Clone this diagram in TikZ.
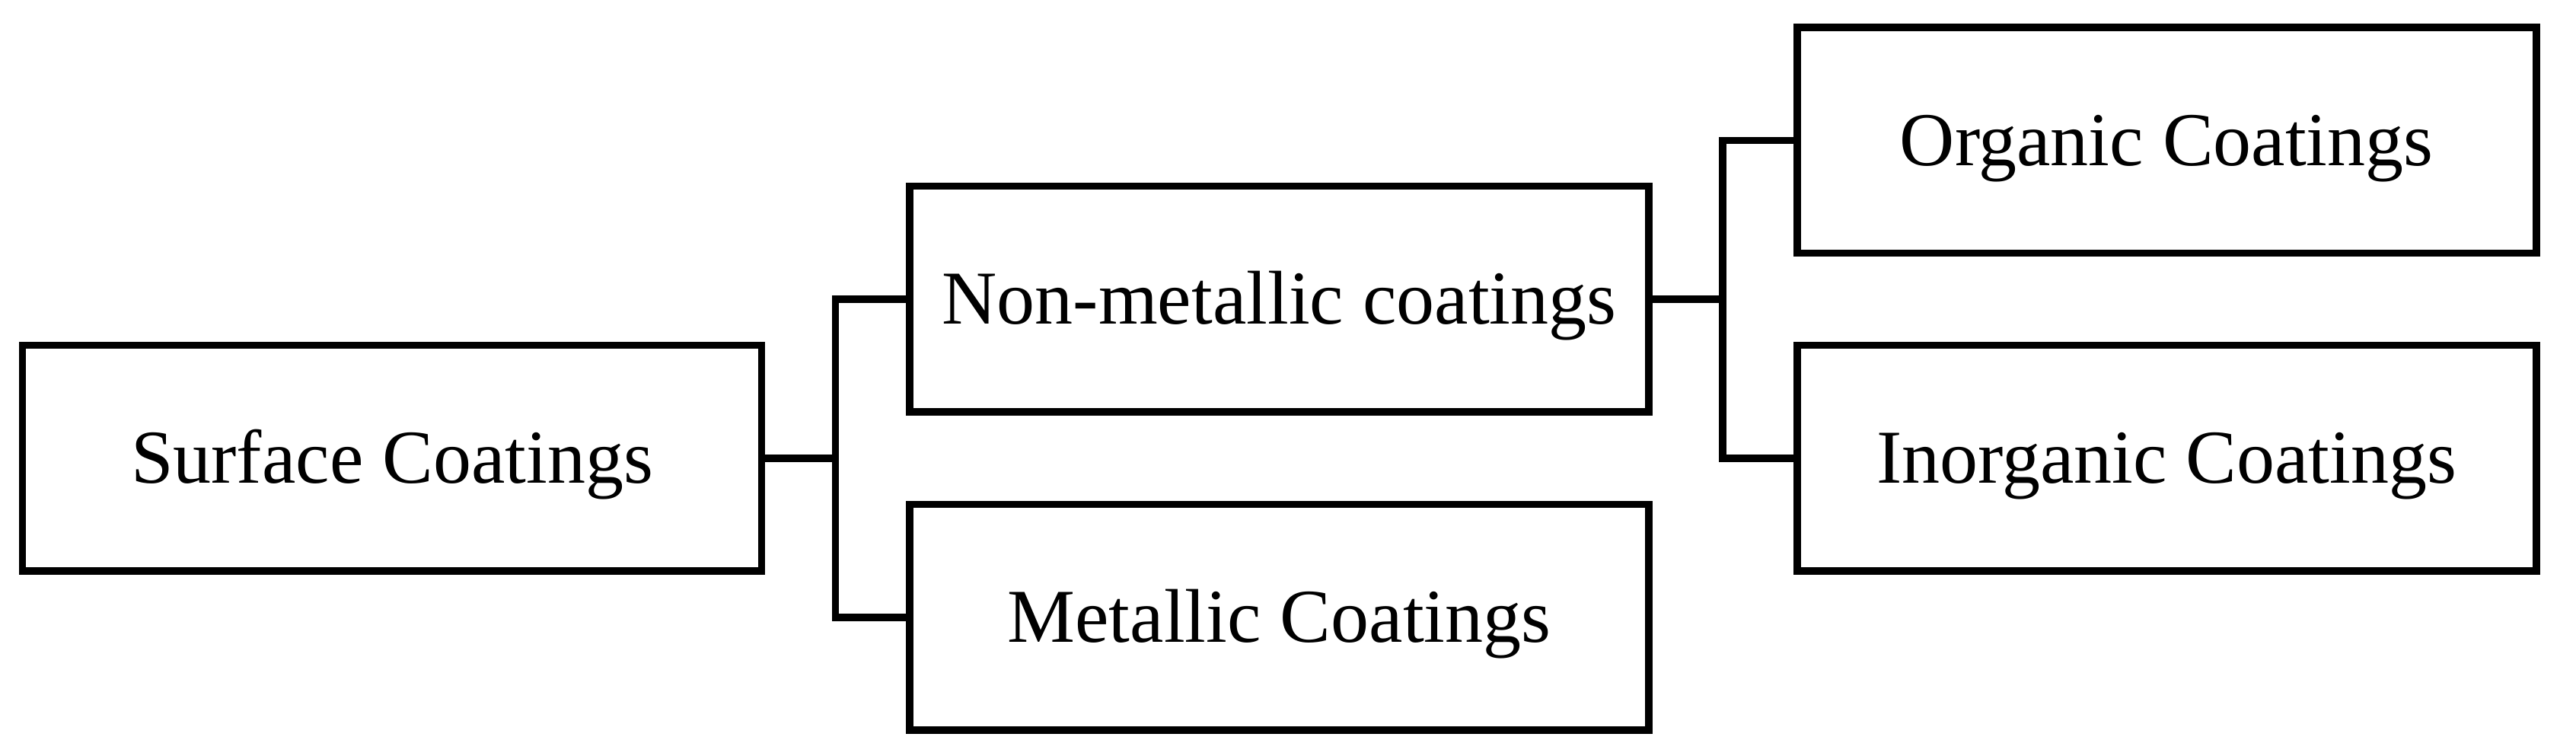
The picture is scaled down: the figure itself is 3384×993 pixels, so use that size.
\documentclass[tikz,border=0pt]{standalone}
\usepackage{fontspec}
\setmainfont{Liberation Serif}
\begin{document}
\begin{tikzpicture}[x=0.25pt,y=-0.25pt,
  catbox/.style={draw=black, line width=2.375pt, minimum width=242.75pt, minimum height=74.125pt,
    inner sep=0pt, text height=16.5pt, text depth=0pt, font=\fontsize{25}{30}\selectfont},
  link/.style={draw=black, line width=2.375pt}]
\useasboundingbox (0,0) rectangle (3384,993);
\node[catbox] (sur) at (515,602) {Surface Coatings};
\node[catbox] (non) at (1680.5,393) {Non-metallic coatings};
\node[catbox] (met) at (1680.5,811) {Metallic Coatings};
\node[catbox] (org) at (2846.25,184.5) {Organic Coatings};
\node[catbox] (ino) at (2846.25,602) {Inorganic Coatings};
\coordinate (j1) at (1097.5,602);
\coordinate (j2) at (2263,393);
\draw[link] (sur.east) -- (j1);
\draw[link] (non.west) -| (j1) |- (met.west);
\draw[link] (non.east) -- (j2);
\draw[link] (org.west) -| (j2) |- (ino.west);
\end{tikzpicture}
\end{document}
